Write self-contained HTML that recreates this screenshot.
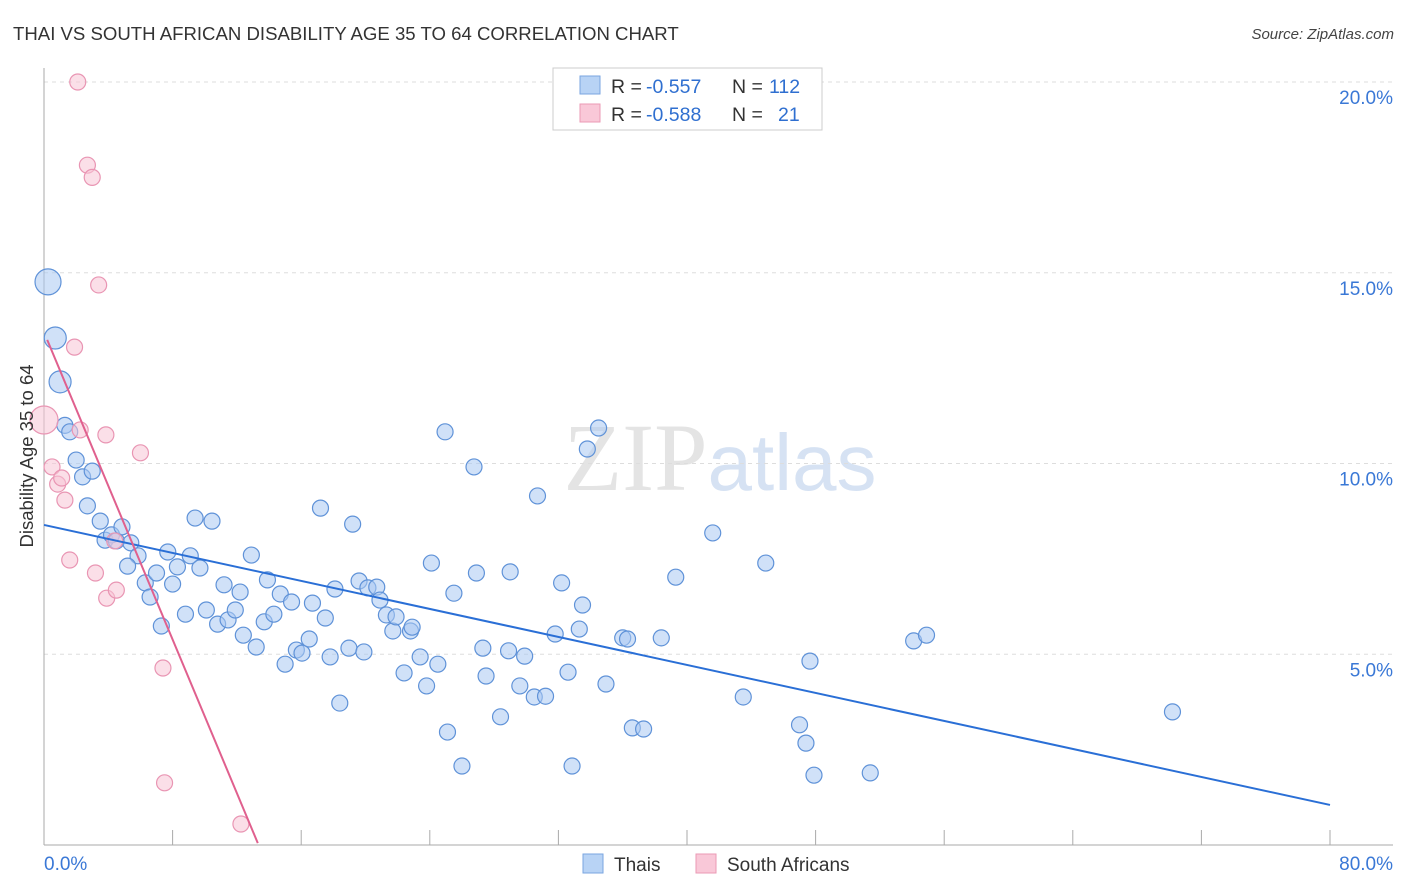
<!DOCTYPE html>
<html><head><meta charset="utf-8">
<style>
body{margin:0;background:#fff;font-family:"Liberation Sans",sans-serif;}
svg{display:block}
</style></head>
<body>
<svg id="chart" width="1406" height="892" xmlns="http://www.w3.org/2000/svg">
<text x="13" y="40" font-size="18.6" fill="#333">THAI VS SOUTH AFRICAN DISABILITY AGE 35 TO 64 CORRELATION CHART</text>
<text x="1394" y="39" font-size="15" fill="#444" font-style="italic" text-anchor="end">Source: ZipAtlas.com</text>
<text x="720" y="490" font-size="96" text-anchor="middle" fill="#e4e4e4" font-family="Liberation Serif"><tspan>ZIP</tspan><tspan fill="#d6e2f3" font-family="Liberation Sans" font-size="80">atlas</tspan></text>
<g id="grid"></g>
<g id="axes"></g>
<g id="pts"></g>
<text transform="translate(33,456) rotate(-90)" font-size="18.5" fill="#333" text-anchor="middle">Disability Age 35 to 64</text>
<g>
<rect x="553" y="68" width="269" height="62" fill="#fff" stroke="#ccc"/>
<rect x="580" y="76" width="20" height="18" fill="#b8d3f5" stroke="#7aa6e0"/>
<rect x="580" y="104" width="20" height="18" fill="#f9c8d8" stroke="#eb9ab5"/>
<text x="611" y="93" font-size="19.5" fill="#333">R =</text>
<text x="646" y="93" font-size="19.5" fill="#2f6fd0">-0.557</text>
<text x="732" y="93" font-size="19.5" fill="#333">N =</text>
<text x="769" y="93" font-size="19.5" fill="#2f6fd0">112</text>
<text x="611" y="121" font-size="19.5" fill="#333">R =</text>
<text x="646" y="121" font-size="19.5" fill="#2f6fd0">-0.588</text>
<text x="732" y="121" font-size="19.5" fill="#333">N =</text>
<text x="778" y="121" font-size="19.5" fill="#2f6fd0">21</text>
</g>
<g>
<rect x="583" y="854" width="20" height="19" fill="#b8d3f5" stroke="#7aa6e0"/>
<text x="614" y="871" font-size="19" fill="#333">Thais</text>
<rect x="696" y="854" width="20" height="19" fill="#f9c8d8" stroke="#eb9ab5"/>
<text x="727" y="871" font-size="19" fill="#333">South Africans</text>
</g>
</svg>
<script>
const yTicks=[5,10,15,20];
const yTickLabels=["5.0%","10.0%","15.0%","20.0%"];
const xTicks=[0,8,16,24,32,40,48,56,64,72,80];
const thaiX=[0.25,0.7,1.0,1.3,1.6,2.0,2.4,3.0,2.7,3.5,3.8,4.2,4.5,4.85,5.4,5.85,5.2,6.3,6.6,7.0,7.3,7.7,8.0,8.3,8.8,9.1,9.4,9.7,10.1,10.45,10.8,11.2,11.45,11.9,12.2,12.4,12.9,13.2,13.9,13.7,14.3,14.7,15.0,15.4,15.7,16.05,16.5,16.7,17.2,17.5,17.8,18.1,18.4,18.97,19.2,19.6,19.9,20.15,20.7,20.9,21.3,21.7,21.9,22.8,22.9,22.4,23.4,23.8,24.1,24.5,24.95,25.1,25.5,26.0,26.75,26.9,27.3,27.5,28.4,28.9,29.0,29.6,29.9,30.5,30.7,31.2,31.8,32.2,32.6,32.85,33.3,33.5,33.8,34.5,34.96,36.0,36.3,36.6,37.3,38.4,39.3,41.6,43.5,44.9,47.0,47.4,47.65,47.9,51.4,54.1,54.9,70.2];
const thaiY=[14.76,13.29,12.14,11.0,10.83,10.09,9.65,9.8,8.89,8.49,7.99,8.13,7.97,8.34,7.92,7.58,7.31,6.87,6.5,7.13,5.74,7.68,6.84,7.29,6.05,7.58,8.57,7.26,6.16,8.49,5.79,6.82,5.9,6.16,6.63,5.5,7.6,5.19,6.95,5.85,6.05,6.58,4.74,6.37,5.11,5.03,5.4,6.34,8.83,5.95,4.93,6.71,3.72,5.16,8.41,6.92,5.06,6.74,6.76,6.42,6.03,5.61,5.98,5.61,5.71,4.51,4.93,4.17,7.39,4.74,10.83,2.96,6.6,2.07,9.91,7.13,5.16,4.43,3.36,5.09,7.16,4.17,4.95,3.88,9.15,3.9,5.53,6.87,4.53,2.07,5.66,6.29,10.38,10.93,4.22,5.43,5.4,3.07,3.04,5.43,7.02,8.18,3.88,7.39,3.15,2.67,4.82,1.83,1.89,5.35,5.5,3.49];
const saX=[2.1,2.7,3.0,3.4,1.9,0,2.25,3.85,6.0,0.5,0.85,1.1,1.3,1.6,3.2,3.9,4.5,7.4,7.5,12.25,4.4];
const saY=[20.0,17.82,17.5,14.68,13.05,11.14,10.88,10.75,10.28,9.91,9.46,9.62,9.04,7.47,7.13,6.47,6.68,4.64,1.63,0.55,7.97];
const thaiTrendX=[0,80];const thaiTrendY=[8.39,1.05];
const saTrendX=[0.2,13.3];const saTrendY=[13.24,0.05];

const X=v=>44+v*1286/80, Y=v=>845-v*38.15;
const NS="http://www.w3.org/2000/svg";
function mk(p,tag,attrs){const e=document.createElementNS(NS,tag);for(const k in attrs)e.setAttribute(k,attrs[k]);p.appendChild(e);return e;}
const grid=document.getElementById('grid'),axes=document.getElementById('axes'),pts=document.getElementById('pts');
yTicks.forEach((t,i)=>{
 const l=mk(grid,'line',{x1:44,x2:1393,y1:Y(t),y2:Y(t),stroke:'#ddd','stroke-dasharray':'4,4'});
 
 
 const tx=mk(axes,'text',{x:1393,y:Y(t)+22,'font-size':19,fill:'#3a78d6','text-anchor':'end'});
 tx.textContent=yTickLabels[i];
 
 
});
const ya=mk(axes,'line',{x1:44,x2:44,y1:68,y2:845,stroke:'#aaa'});


const xa=mk(axes,'line',{x1:44,x2:1393,y1:845,y2:845,stroke:'#aaa'});


xTicks.forEach(t=>{
 const l=mk(axes,'line',{x1:X(t),x2:X(t),y1:830,y2:845,stroke:'#aaa'});
 
 
});
const x0=mk(axes,'text',{x:44,y:870,'font-size':19,fill:'#3a78d6'});x0.textContent='0.0%';


const x1=mk(axes,'text',{x:1393,y:870,'font-size':19,fill:'#3a78d6','text-anchor':'end'});x1.textContent='80.0%';


thaiX.forEach((v,i)=>{
 const c=mk(pts,'circle',{cx:X(v),cy:Y(thaiY[i]),r:i==0?13:(i<3?11:8),fill:'rgba(170,200,242,0.55)',stroke:'#5f92d8','stroke-width':1.2});
 
 
});
saX.forEach((v,i)=>{
 const c=mk(pts,'circle',{cx:X(v),cy:Y(saY[i]),r:i==5?14:8,fill:'rgba(248,196,214,0.55)',stroke:'#e995b3','stroke-width':1.2});
 
 
});
const t1=mk(pts,'line',{x1:X(thaiTrendX[0]),y1:Y(thaiTrendY[0]),x2:X(thaiTrendX[1]),y2:Y(thaiTrendY[1]),stroke:'#2a6fd6','stroke-width':2});


const t2=mk(pts,'line',{x1:X(saTrendX[0]),y1:Y(saTrendY[0]),x2:X(saTrendX[1]),y2:Y(saTrendY[1]),stroke:'#e0608e','stroke-width':2});


</script>
</body></html>
